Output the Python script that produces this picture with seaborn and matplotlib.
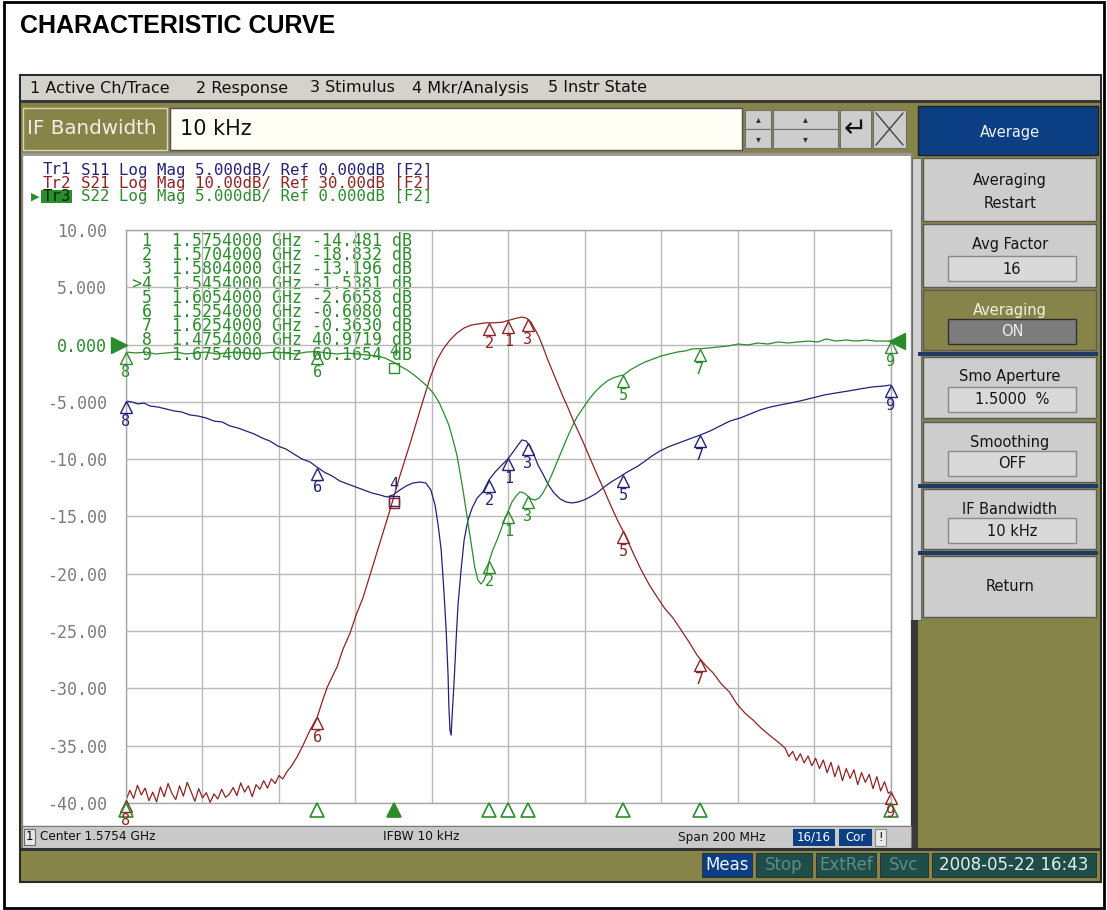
import numpy as np
import pandas as pd
import matplotlib
matplotlib.use("Agg")
import matplotlib.pyplot as plt
import seaborn as sns
from matplotlib.patches import Rectangle
from matplotlib.transforms import offset_copy

# ---------------- data ----------------
START_MHZ = 1475.4
STOP_MHZ = 1675.4

s11_freq = [1475.4, 1477.0, 1478.5, 1480.1, 1481.7, 1483.8, 1485.9, 1488.0, 1490.0, 1492.1,
            1494.2, 1496.3, 1498.4, 1500.5, 1502.6, 1504.7, 1506.8, 1508.9, 1511.0, 1513.0,
            1515.1, 1517.2, 1519.3, 1521.4, 1523.5, 1525.3, 1527.2, 1529.3, 1531.3, 1533.4,
            1535.5, 1537.6, 1539.7, 1541.8, 1543.6, 1545.2, 1547.0, 1548.6, 1550.4, 1552.3,
            1553.8, 1555.1, 1556.2, 1557.0, 1557.8, 1558.5, 1559.1, 1559.6, 1559.8, 1560.1,
            1560.4, 1560.6, 1561.2, 1561.7, 1562.2, 1563.0, 1563.8, 1564.8, 1565.9, 1567.2,
            1568.7, 1570.3, 1571.9, 1573.4, 1575.0, 1576.6, 1577.9, 1578.9, 1580.0, 1581.0,
            1582.1, 1583.1, 1584.4, 1585.7, 1587.3, 1588.9, 1590.4, 1592.0, 1593.6, 1595.1,
            1596.7, 1598.5, 1600.4, 1602.2, 1604.0, 1605.6, 1607.4, 1609.3, 1611.1, 1612.9,
            1615.0, 1617.1, 1619.2, 1621.3, 1623.4, 1625.5, 1628.1, 1630.7, 1633.3, 1636.0,
            1638.6, 1641.2, 1643.8, 1646.4, 1649.0, 1651.6, 1654.8, 1657.9, 1661.0, 1664.2,
            1667.3, 1670.4, 1673.6, 1675.4]
s11_db = [-4.92, -5.01, -5.18, -5.10, -5.36, -5.45, -5.62, -5.79, -5.88, -6.14,
          -6.23, -6.40, -6.67, -6.75, -7.10, -7.28, -7.54, -7.80, -8.15, -8.41,
          -8.85, -9.11, -9.55, -9.98, -10.24, -10.68, -11.12, -11.47, -11.90, -12.17,
          -12.43, -12.69, -12.95, -13.12, -13.30, -13.12, -12.69, -12.34, -12.08, -11.99,
          -12.08, -12.69, -14.00, -15.74, -17.92, -21.41, -24.92, -28.85, -31.47, -33.65,
          -34.08, -32.77, -29.28, -25.79, -22.72, -19.67, -17.05, -15.31, -14.26, -13.39,
          -12.86, -11.81, -11.12, -10.59, -10.07, -9.37, -8.76, -8.32, -8.41, -8.85,
          -9.64, -10.51, -11.29, -12.17, -12.95, -13.47, -13.73, -13.82, -13.73, -13.56,
          -13.30, -12.95, -12.43, -11.99, -11.64, -11.29, -10.94, -10.59, -10.16, -9.72,
          -9.28, -8.94, -8.67, -8.41, -8.15, -7.89, -7.54, -7.10, -6.67, -6.40,
          -6.05, -5.70, -5.45, -5.27, -5.10, -4.92, -4.66, -4.40, -4.22, -4.05,
          -3.87, -3.70, -3.61, -3.52]

s21_freq = [1475.4, 1476.4, 1477.4, 1478.4, 1479.4, 1480.4, 1481.4, 1482.4, 1483.4, 1484.4,
            1485.4, 1486.4, 1487.4, 1488.4, 1489.4, 1490.4, 1491.4, 1492.4, 1493.4, 1494.4,
            1495.4, 1496.4, 1497.4, 1498.4, 1499.4, 1500.4, 1501.4, 1502.4, 1503.4, 1504.4,
            1505.4, 1506.4, 1507.4, 1508.4, 1509.4, 1510.4, 1511.4, 1512.4, 1513.4, 1514.4,
            1515.4, 1516.4, 1517.4, 1518.6,
            1520.1, 1521.7, 1523.5, 1525.4, 1526.6, 1528.0, 1529.3, 1530.6, 1532.1, 1534.0,
            1535.5, 1537.4, 1539.2, 1541.8, 1544.4, 1547.0, 1549.7, 1552.3, 1554.9, 1556.7,
            1558.3, 1560.1, 1561.9, 1563.8, 1565.6, 1567.4, 1569.5, 1571.6, 1573.7, 1575.8,
            1577.4, 1578.9, 1580.2, 1581.3, 1582.3, 1583.4, 1584.4, 1585.7, 1587.0, 1588.3,
            1589.6, 1591.0, 1592.3, 1593.6, 1594.9, 1596.7, 1598.5, 1600.4, 1602.2, 1604.0,
            1605.9, 1608.0, 1610.0, 1612.1, 1614.2, 1616.3, 1618.4, 1620.5, 1622.6, 1624.7,
            1626.8, 1628.9, 1631.0, 1633.1, 1635.1, 1637.2, 1639.3, 1641.4, 1643.5, 1645.6,
            1647.7,
            1648.7, 1649.7, 1650.7, 1651.7, 1652.7, 1653.7, 1654.7, 1655.7, 1656.7, 1657.7,
            1658.7, 1659.7, 1660.7, 1661.7, 1662.7, 1663.7, 1664.7, 1665.7, 1666.7, 1667.7,
            1668.7, 1669.7, 1670.7, 1671.7, 1672.7, 1673.7, 1674.7, 1675.4]
s21_db = [-49.5, -47.8, -49.2, -46.9, -48.6, -47.4, -49.6, -48.1, -49.8, -47.2,
          -48.9, -46.6, -48.3, -49.4, -47.0, -48.8, -46.4, -48.0, -49.7, -47.5,
          -49.1, -48.2, -49.9, -48.4, -49.3, -47.6, -49.0, -48.5, -47.3, -48.7,
          -46.5, -48.1, -47.0, -48.9, -46.8, -47.6, -46.1, -47.4, -45.8, -46.6,
          -45.2, -45.8, -44.6, -43.6,
          -42.0, -39.9, -37.3, -35.0, -32.5, -29.8, -28.0, -26.2, -23.2, -20.3,
          -17.3, -14.1, -10.2, -4.6, 1.1, 7.1, 12.8, 18.6, 24.2, 27.3,
          29.2, 30.8, 32.0, 32.9, 33.4, 33.6, 33.8, 33.8, 33.9, 34.3,
          34.6, 34.8, 34.6, 33.9, 32.7, 31.3, 29.6, 27.3, 25.2, 23.1,
          21.0, 18.9, 16.8, 14.9, 13.0, 10.2, 7.4, 4.6, 1.8, -0.8,
          -3.2, -6.4, -9.2, -11.8, -14.0, -16.1, -17.7, -19.8, -21.9, -24.2,
          -25.9, -27.3, -29.2, -30.6, -32.7, -34.3, -35.5, -36.9, -38.1, -39.2,
          -40.4,
          -41.9, -41.0, -42.6, -41.4, -43.0, -41.8, -43.5, -42.2, -44.0, -42.5,
          -44.7, -42.9, -45.4, -43.5, -46.1, -44.0, -45.7, -44.2, -46.8, -44.7,
          -46.4, -45.0, -47.5, -45.4, -47.9, -46.3, -48.3, -48.0]

s22_freq = [1475.4, 1478.0, 1480.6, 1483.2, 1485.9, 1488.5, 1491.1, 1493.7, 1496.3, 1498.9,
            1501.5, 1504.2, 1506.8, 1509.4, 1512.0, 1514.6, 1517.2, 1519.8, 1522.5, 1525.4,
            1528.0, 1530.6, 1533.2, 1535.8, 1538.4, 1541.0, 1543.1, 1545.4, 1547.0, 1548.9,
            1550.4, 1552.3, 1554.1, 1555.7, 1557.2, 1558.5, 1559.8, 1560.9, 1561.9, 1562.7,
            1563.5, 1564.3, 1565.1, 1565.9, 1566.6, 1567.4, 1568.2, 1569.0, 1569.8, 1570.4,
            1571.3, 1572.4, 1573.4, 1574.5, 1575.4, 1576.3, 1577.4, 1578.4, 1579.5, 1580.4,
            1581.3, 1582.3, 1583.4, 1584.4, 1585.5, 1586.8, 1588.1, 1589.4, 1590.7, 1592.0,
            1593.3, 1594.9, 1596.5, 1598.0, 1599.6, 1601.2, 1602.7, 1604.3, 1605.4, 1607.2,
            1609.0, 1611.1, 1613.2, 1615.3, 1617.4, 1619.5, 1621.5, 1623.4, 1625.4, 1627.6,
            1630.2, 1632.8, 1635.4, 1638.0, 1640.6, 1643.2, 1645.9, 1648.5, 1651.1, 1653.7,
            1656.3, 1658.4, 1661.0, 1663.6, 1666.3, 1668.9, 1671.5, 1674.1, 1675.4]
s22_db = [-0.65, -0.73, -0.65, -0.82, -0.73, -0.65, -0.82, -0.73, -0.65, -0.82,
          -0.73, -0.65, -0.73, -0.82, -0.73, -0.65, -0.73, -0.82, -0.65, -0.61,
          -0.73, -0.82, -0.73, -0.82, -0.91, -0.99, -1.17, -1.54, -1.87, -2.22,
          -2.57, -3.09, -3.61, -4.22, -5.01, -5.97, -7.02, -8.32, -9.63, -11.12,
          -12.69, -14.43, -16.18, -17.92, -19.49, -20.54, -20.89, -20.54, -19.84, -18.83,
          -17.92, -17.05, -16.18, -15.13, -14.48, -13.73, -13.21, -12.86, -12.95, -13.20,
          -13.47, -13.56, -13.39, -12.95, -12.25, -11.29, -10.24, -9.20, -8.15, -7.19,
          -6.31, -5.53, -4.75, -4.14, -3.61, -3.18, -2.91, -2.74, -2.67, -2.22,
          -1.87, -1.52, -1.26, -0.99, -0.82, -0.65, -0.56, -0.38, -0.36, -0.30,
          -0.21, -0.12, 0.05, -0.03, 0.14, 0.05, 0.23, 0.14, 0.23, 0.31,
          0.23, 0.49, 0.31, 0.40, 0.31, 0.40, 0.31, 0.31, 0.31]

marker_ids = [1, 2, 3, 4, 5, 6, 7, 8, 9]
marker_freq = [1575.4, 1570.4, 1580.4, 1545.4, 1605.4, 1525.4, 1625.4, 1475.4, 1675.4]
marker_table_vals = ["-14.481", "-18.832", "-13.196", "-1.5381", "-2.6658",
                     "-0.6080", "-0.3630", "40.9719", "60.1654"]
active_marker = 4

y_ticks = [10, 5, 0, -5, -10, -15, -20, -25, -30, -35, -40]
y_tick_labels = ["10.00", "5.000", "0.000", "-5.000", "-10.00", "-15.00",
                 "-20.00", "-25.00", "-30.00", "-35.00", "-40.00"]

trace_names = ["Tr1", "Tr2", "Tr3"]
trace_header = ["S11 Log Mag 5.000dB/ Ref 0.000dB [F2]",
                "S21 Log Mag 10.00dB/ Ref 30.00dB [F2]",
                "S22 Log Mag 5.000dB/ Ref 0.000dB [F2]"]
menu_items = ["1 Active Ch/Trace", "2 Response", "3 Stimulus", "4 Mkr/Analysis", "5 Instr State"]

# S21 is displayed at 10 dB/div with ref 30 dB; the graticule is labelled in 5 dB/div (active trace)
S21_REF, S21_DIV, GRID_DIV = 30.0, 10.0, 5.0

# ---------------- styling ----------------
sns.set_style("white")
plt.rcParams['font.family'] = ['DejaVu Sans']

C_S11 = '#222277'
C_S21 = '#8e2424'
C_S22 = '#2b8c2b'
OLIVE = '#878449'
GRAY = '#cdcdcd'
BLUE = '#0c3e84'
TEAL = '#1f4d48'
MONO = 'DejaVu Sans Mono'

fig = plt.figure(figsize=(11.07, 9.10), dpi=100)
bg = fig.add_axes([0, 0, 1, 1])
bg.set_xlim(0, 1107)
bg.set_ylim(910, 0)
bg.axis('off')


def box(x0, y0, x1, y1, fc, ec='none', lw=0.0, z=1):
    bg.add_patch(Rectangle((x0, y0), x1 - x0, y1 - y0, facecolor=fc,
                           edgecolor=ec, linewidth=lw, zorder=z))


def label(x, y, s, size=11, color='black', ha='left', va='center',
          family='DejaVu Sans', weight='normal', z=5):
    bg.text(x, y, s, fontsize=size, color=color, ha=ha, va=va,
            family=family, fontweight=weight, zorder=z)


# page frame and title
box(4, 2, 1104, 908, 'white', 'black', 2.0, z=0)
label(20, 26, "CHARACTERISTIC CURVE", size=18, family='Liberation Sans', weight='bold')

# instrument window
box(20, 75, 1101, 882, OLIVE, '#2a2a2a', 1.5)
box(21, 76, 1100, 100, '#d5d2cc')
box(21, 100, 1100, 103, '#3a3a3a')
menu_x = [30, 196, 310, 412, 548]
for mx, item in zip(menu_x, menu_items):
    label(mx, 88, item, size=11.5, color='#101010')

# entry line
box(23, 108, 167, 150, OLIVE, '#d8d8b8', 1.0, z=2)
label(27, 129, "IF Bandwidth", size=14.3, color='#f0f0e4', z=6)
box(170, 108, 742, 150, '#fffff6', '#505050', 1.0, z=2)
label(180, 129, "10 kHz", size=15, color='#111111', z=6)
for (x0, x1) in [(745, 771), (773, 838)]:
    box(x0, 110, x1, 129, GRAY, '#707070', 0.8, z=2)
    box(x0, 129, x1, 148, GRAY, '#707070', 0.8, z=2)
    label((x0 + x1) / 2, 119, "\u25B4", size=7, color='#333333', ha='center', z=6)
    label((x0 + x1) / 2, 139, "\u25BE", size=7, color='#333333', ha='center', z=6)
box(840, 110, 871, 148, GRAY, '#707070', 0.8, z=2)
label(855.5, 129, "\u21B5", size=20, color='#111111', ha='center', z=6)
box(873, 110, 906, 148, GRAY, '#707070', 0.8, z=2)
bg.plot([876, 903], [113, 145], color='#444444', lw=1.0, zorder=6)
bg.plot([876, 903], [145, 113], color='#444444', lw=1.0, zorder=6)

# chart panel
box(22, 153, 911, 826, 'white', '#8a8a8a', 1.0, z=1)
box(22, 153, 911, 156, '#9a9a9a', z=2)
box(912, 158, 921, 620, '#d2d2d2', '#6a6a6a', 0.8, z=2)
box(911, 620, 918, 848, '#3a3a3a', z=2)

# softkeys
box(918, 106, 1098, 155, BLUE, '#202020', 1.0, z=2)
label(1010, 132, "Average", size=10.5, color='#f2f2f2', ha='center', z=6)
keys = [(158, 221, ["Averaging", "Restart"], None, GRAY),
        (224, 287, ["Avg Factor"], "16", GRAY),
        (290, 350, ["Averaging"], "ON", OLIVE),
        (357, 418, ["Smo Aperture"], "1.5000  %", GRAY),
        (422, 482, ["Smoothing"], "OFF", GRAY),
        (489, 549, ["IF Bandwidth"], "10 kHz", GRAY),
        (556, 617, ["Return"], None, GRAY)]
for (y0, y1, lines, field, fc) in keys:
    box(923, y0, 1096, y1, fc, '#5a5a5a', 1.0, z=2)
    tc = '#f0f0e0' if fc == OLIVE else '#151515'
    if field is None:
        if len(lines) == 2:
            label(1010, y0 + 22, lines[0], size=10.5, color=tc, ha='center', z=6)
            label(1010, y0 + 46, lines[1], size=10.5, color=tc, ha='center', z=6)
        else:
            label(1010, (y0 + y1) / 2, lines[0], size=10.5, color=tc, ha='center', z=6)
    else:
        label(1010, y0 + 20, lines[0], size=10.5, color=tc, ha='center', z=6)
        ffc = '#7c7c7c' if fc == OLIVE else '#d9d9d9'
        fcol = '#ececec' if fc == OLIVE else '#151515'
        box(948, y1 - 31, 1076, y1 - 6, ffc, '#303030' if fc == OLIVE else '#8a8a8a', 1.0, z=3)
        label(1012, y1 - 18, field, size=10.5, color=fcol, ha='center', z=6)
for ys in [352, 484, 551]:
    box(918, ys, 1098, ys + 3.5, '#1f3a66', z=3)

# status bar
box(22, 826, 911, 848, '#c9c9c9', '#7a7a7a', 0.8, z=2)
box(24, 829, 35, 845, '#e6e6e6', '#6a6a6a', 0.8, z=3)
label(29.5, 837, "1", size=8.5, ha='center', z=6)
label(40, 837, "Center 1.5754 GHz", size=8.7, color='#111111', z=6)
label(383, 837, "IFBW 10 kHz", size=8.7, color='#111111', z=6)
label(678, 837, "Span 200 MHz", size=8.7, color='#111111', z=6)
box(793, 829, 835, 846, BLUE, z=3)
label(814, 837.5, "16/16", size=8.5, color='white', ha='center', z=6)
box(839, 829, 872, 846, BLUE, z=3)
label(855.5, 837.5, "Cor", size=8.5, color='white', ha='center', z=6)
box(875, 829, 886, 846, '#e9e9e9', '#8a8a8a', 0.8, z=3)
label(880.5, 837.5, "!", size=8.5, color='#111111', ha='center', z=6)

# bottom status band
box(21, 848, 1100, 851, '#333333', z=2)
bottom_boxes = [(702, 752, "Meas", BLUE, '#f4f4f4'),
                (756, 812, "Stop", TEAL, '#5e8c86'),
                (816, 876, "ExtRef", TEAL, '#5e8c86'),
                (880, 928, "Svc", TEAL, '#5e8c86'),
                (932, 1096, "2008-05-22 16:43", TEAL, '#e6eeec')]
for (x0, x1, s, fc, tc) in bottom_boxes:
    box(x0, 853, x1, 877, fc, '#2a2a2a', 0.6, z=3)
    label((x0 + x1) / 2, 865, s, size=12, color=tc, ha='center', z=6)

# trace header (monospace, 9.45 px per character at 11.3 pt)
CHAR_W = 11.3 * 100 / 72 * 0.602
header_cols = [C_S11, C_S21, C_S22]
for i, (nm, s, c) in enumerate(zip(trace_names, trace_header, header_cols)):
    y = 170 + 13.2 * i
    if i == 2:
        box(41, y - 6.5, 43 + 3 * CHAR_W + 1, y + 6.5, C_S22, z=7)
        label(43, y + 0.4, nm, size=11.3, color='#06260a', family=MONO, z=8)
        label(31, y + 0.4, "\u25B6", size=8, color=C_S22, z=8)
    else:
        label(43, y, nm, size=11.3, color=c, family=MONO, z=6)
    label(43 + 4 * CHAR_W, y, s, size=11.3, color=c, family=MONO, z=6)

# marker table (active trace S22)
for i, (mid, mf, mv) in enumerate(zip(marker_ids, marker_freq, marker_table_vals)):
    tag = (">" + str(mid)) if mid == active_marker else str(mid)
    row = f"{tag:>2}  {mf / 1000:.7f} GHz {mv} dB"
    label(132, 241 + 14.2 * i, row, size=12, color=C_S22, family=MONO, z=6)

# ---------------- measurement graticule ----------------
ax = fig.add_axes([126 / 1107, (910 - 803) / 910, 765 / 1107, 573 / 910])
ax.patch.set_alpha(0)
ax.set_zorder(3)

traces = [
    (s11_freq, s11_db, 1.0, 0.0, C_S11),
    (s21_freq, s21_db, GRID_DIV / S21_DIV, S21_REF, C_S21),
    (s22_freq, s22_db, 1.0, 0.0, C_S22),
]
for freq, vals, k, ref, col in traces:
    disp = (np.asarray(vals) - ref) * k
    df = pd.DataFrame({"freq": freq, "disp": disp})
    sns.lineplot(data=df, x="freq", y="disp", ax=ax, color=col, lw=0.9,
                 estimator=None, sort=False, legend=False)

ax.set_xlim(START_MHZ, STOP_MHZ)
ax.set_ylim(-40, 10)
ax.set_xticks(np.linspace(START_MHZ, STOP_MHZ, 11))
ax.set_xticklabels([])
ax.set_yticks(y_ticks)
ax.set_yticklabels(y_tick_labels, family=MONO)
ax.tick_params(axis='both', length=0)
ax.tick_params(axis='y', pad=13.5, labelsize=12, labelcolor='#7c7c7c')
for t in ax.get_yticklabels():
    if t.get_text() == "0.000":
        t.set_color(C_S22)
ax.grid(True, color='#b8b8b8', lw=1.0)
for sp in ax.spines.values():
    sp.set_color('#a8a8a8')
    sp.set_linewidth(1.0)
ax.set_xlabel("")
ax.set_ylabel("")

# markers on each trace
for ti, (freq, vals, k, ref, col) in enumerate(traces):
    disp = (np.asarray(vals) - ref) * k
    for mid, mf in zip(marker_ids, marker_freq):
        mv = float(np.interp(mf, freq, disp))
        tri = offset_copy(ax.transData, fig=fig, x=0, y=-4.5, units='points')
        if mid == active_marker:
            ax.plot([mf], [mv], marker='s', ms=7, mfc='none', mec=col, mew=1.0,
                    transform=tri, clip_on=False, zorder=5)
            if ti != 1:
                ax.annotate(str(mid), (mf, mv), xytext=(0, 2), textcoords='offset points',
                            ha='center', va='bottom', fontsize=11, color=col, family=MONO,
                            annotation_clip=False, zorder=6)
        else:
            ax.plot([mf], [mv], marker='^', ms=9, mfc='none', mec=col, mew=1.0,
                    transform=tri, clip_on=False, zorder=5)
            ax.annotate(str(mid), (mf, mv), xytext=(0, -9.5), textcoords='offset points',
                        ha='center', va='top', fontsize=11, color=col, family=MONO,
                        annotation_clip=False, zorder=6)

# stimulus markers under the graticule
xt = ax.get_xaxis_transform()
for mid, mf in zip(marker_ids, marker_freq):
    ax.plot([mf], [-0.013], marker='^', ms=10, transform=xt, clip_on=False,
            mec=C_S22, mew=1.2, mfc=C_S22 if mid == active_marker else 'none', zorder=5)

# reference level arrows
left_arrow = offset_copy(ax.transData, fig=fig, x=-5.0, y=0, units='points')
ax.plot([START_MHZ], [0], marker='>', ms=12, color=C_S22, transform=left_arrow,
        clip_on=False, zorder=6)
right_arrow = offset_copy(ax.transData, fig=fig, x=4.5, y=0, units='points')
ax.plot([STOP_MHZ], [0.3], marker='<', ms=11, color=C_S22, transform=right_arrow,
        clip_on=False, zorder=6)

fig.savefig("out.png", dpi=100)
